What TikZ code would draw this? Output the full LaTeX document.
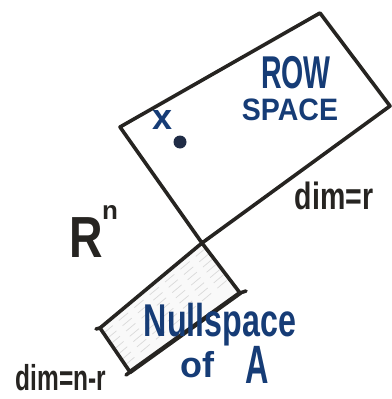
\documentclass[tikz,border=0pt]{standalone}
\usepackage{fontspec}
\setmainfont{Liberation Sans}
\usetikzlibrary{calc}
\definecolor{ink}{RGB}{38,36,33}
\definecolor{blueink}{RGB}{22,60,118}
\definecolor{dotc}{RGB}{32,44,70}
\begin{document}
\begin{tikzpicture}[x=1pt,y=-1pt,
  edge/.style={draw=ink,line width=3.6pt,line join=round,line cap=round},
  bluetxt/.style={text=blueink,inner sep=0pt,transform shape},
  blacktxt/.style={text=ink,inner sep=0pt,transform shape},
  hatch/.style={draw=gray!30,line width=0.7pt,dash pattern=on 12pt off 8pt}]
\useasboundingbox (0,0) rectangle (391,399);
% row space corners
\coordinate (rl) at (120,127);
\coordinate (rt) at (320,13);
\coordinate (rr) at (390,106);
\coordinate (rb) at (202,243);
% null space corners
\coordinate (nl) at (100,328);
\coordinate (nr) at (240,293);
\coordinate (nb) at (130,372);
% null space shading
\fill[gray!5] (nl) -- (rb) -- (nr) -- (nb) -- cycle;
\begin{scope}
\clip (nl) -- (rb) -- (nr) -- (nb) -- cycle;
\foreach \t in {0.12,0.24,0.36,0.48,0.60,0.72,0.84}{
  \draw[hatch] ($(nl)!\t!(nb)$) -- ++(120,-100);
}
\end{scope}
% row space
\draw[edge] (rl) -- (rt) -- (rr) -- (rb) -- cycle;
% null space
\draw[edge] (nl) -- (rb) -- (nr);
\draw[edge] (nl) -- ++(-4,1);
\draw[edge] (nl) -- (nb);
\draw[edge,line width=4.5pt] (nb) -- (nr);
\draw[edge] (nr) -- ++(6,-2);
\draw[edge] (nb) -- ++(-4,3);
% point x
\node[bluetxt,font=\bfseries\fontsize{36}{36}\selectfont,anchor=base] (xl) at (163,129) {x};
\fill[dotc] (180,142) circle (6.5);
\coordinate (xd) at (180,142);
% labels
\node[bluetxt,font=\bfseries\fontsize{46}{46}\selectfont,xscale=0.62,anchor=base] (row) at (296,88) {ROW};
\node[bluetxt,font=\bfseries\fontsize{31}{31}\selectfont,xscale=0.92,anchor=base] (space) at (290,120) {SPACE};
\node[blacktxt,font=\bfseries\fontsize{38}{38}\selectfont,xscale=0.75,anchor=base] (dimr) at (334,209) {dim=r};
\node[blacktxt,font=\bfseries\fontsize{58}{58}\selectfont,anchor=base,xscale=0.8] (Rn) at (86,257) {R};
\node[blacktxt,font=\bfseries\fontsize{26}{26}\selectfont,anchor=base] (Rsup) at (110,219) {n};
\node[bluetxt,font=\bfseries\fontsize{46}{46}\selectfont,xscale=0.7,anchor=base] (null) at (220,336) {Nullspace};
\node[bluetxt,font=\bfseries\fontsize{36}{36}\selectfont,anchor=base] (of) at (197,377) {of};
\node[bluetxt,font=\bfseries\fontsize{54}{54}\selectfont,xscale=0.6,anchor=base] (A) at (257,383) {A};
\node[blacktxt,font=\bfseries\fontsize{36}{36}\selectfont,xscale=0.68,anchor=base] (dimnr) at (61,390) {dim=n-r};
\end{tikzpicture}
\end{document}
